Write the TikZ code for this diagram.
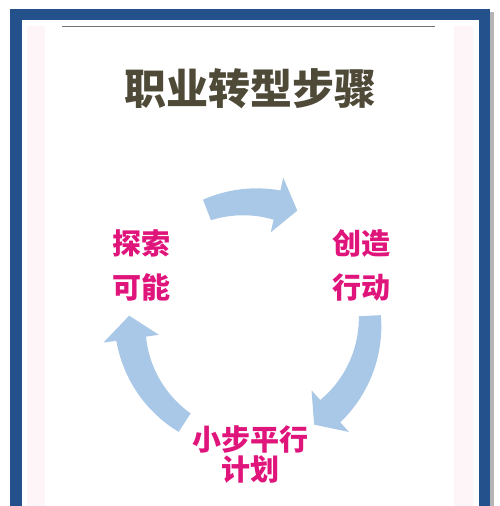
\documentclass[tikz,border=0pt]{standalone}
\usepackage{fontspec}
\newfontfamily\cjk{Noto Sans CJK SC}
\definecolor{frameblue}{HTML}{24508C}
\definecolor{shadowgrey}{HTML}{B4B4B8}
\definecolor{titlecol}{HTML}{4E4A37}
\definecolor{labelcol}{HTML}{E0157B}
\definecolor{arrowblue}{HTML}{A9C8E7}
\definecolor{stripink}{HTML}{FEF5F8}
\tikzset{
  titletext/.style={font=\cjk\bfseries\fontsize{42}{42}\selectfont, text=titlecol, inner sep=0pt},
  steplabel/.style={font=\cjk\bfseries\fontsize{29}{44}\selectfont, text=labelcol, align=center, inner sep=0pt},
  steplabeltight/.style={font=\cjk\bfseries\fontsize{29}{30}\selectfont, text=labelcol, align=center, inner sep=0pt},
  arrowfill/.style={fill=arrowblue},
}
% cycle arrow: tail angle, head-base angle, tip angle (clockwise)
\newcommand{\cyclearrow}[3]{%
  \fill[arrowfill] plot[domain=#1:#2, samples=40] (\x:{120+(11+4*((#1)-\x)/((#1)-(#2)))})
    -- (#2:148) -- (#3:121) -- (#2:92)
    -- plot[domain=#2:#1, samples=40] (\x:{120-(11+4*((#1)-\x)/((#1)-(#2)))}) -- cycle;}
\begin{document}
\begin{tikzpicture}[x=1pt,y=1pt]
  \useasboundingbox (0,0) rectangle (500,506);
  \fill[white] (0,0) rectangle (500,506);
  % frame
  \fill[shadowgrey] (490,0) rectangle (494,494);
  \fill[frameblue] (10,0) rectangle (490,497);
  \fill[white] (22,0) rectangle (479,486);
  \fill[stripink] (27,0) rectangle (45,480);
  \fill[stripink] (454,0) rectangle (473,480);
  \draw[line width=0.8pt, black!55] (62,480) -- (435,480);
  % title
  \node[titletext] (title) at (250,417) {职业转型步骤};
  % labels
  \node[steplabel] (explore) at (141,241) {探索\\可能};
  \node[steplabel] (create) at (361,241) {创造\\行动};
  \node[steplabeltight] (plan) at (250,51) {小步平行\\计划};
  % cycle arrows
  \coordinate (c) at (250,184);
  \begin{scope}[shift={(c)}]
    \cyclearrow{111}{77}{67}
    \cyclearrow{3}{-48}{-58}
    \cyclearrow{237}{188}{177}
  \end{scope}
\end{tikzpicture}
\end{document}
